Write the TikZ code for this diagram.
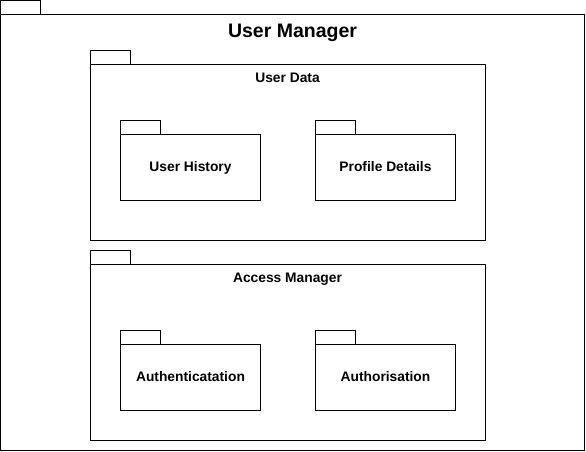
\documentclass[tikz,border=0pt]{standalone}
\usepackage{fontspec}
\setmainfont{Liberation Sans}
\usetikzlibrary{positioning}

\begin{document}
\begin{tikzpicture}[x=1pt,y=-1pt]
\tikzset{pkg/.style={draw,line width=1pt,inner sep=0pt,outer sep=0pt}}
\tikzset{tab/.style={pkg,minimum width=40pt,minimum height=14pt,anchor=south west}}
\tikzset{leafpkg/.style={pkg,minimum width=140pt,minimum height=66pt,font=\fontsize{13.8}{16}\bfseries,text depth=0pt,text height=8pt}}
\tikzset{title/.style={inner sep=0pt,font=\fontsize{13.8}{16}\bfseries}}

\useasboundingbox (0,0) rectangle (586,451);

% outer package
\node[pkg,minimum width=584pt,minimum height=436pt] (usermanager) at (292.5,232.5) {};
\node[tab] (usermanagertab) at (usermanager.north west) {};
\node[title,font=\fontsize{19.5}{22}\bfseries,below=9pt of usermanager.north] (usermanagertitle) {User Manager};

% user data
\node[pkg,minimum width=395pt,minimum height=176pt] (userdata) at (287.5,152.5) {};
\node[tab] (userdatatab) at (userdata.north west) {};
\node[title,below=8pt of userdata.north] (userdatatitle) {User Data};
\node[leafpkg] (history) at (190.5,167.5) {User History};
\node[tab] (historytab) at (history.north west) {};
\node[leafpkg] (profile) at (385.5,167.5) {Profile Details};
\node[tab] (profiletab) at (profile.north west) {};

% access manager
\node[pkg,minimum width=395pt,minimum height=176pt] (access) at (287.5,352.5) {};
\node[tab] (accesstab) at (access.north west) {};
\node[title,below=8pt of access.north] (accesstitle) {Access Manager};
\node[leafpkg] (authn) at (190.5,377.5) {Authenticatation};
\node[tab] (authntab) at (authn.north west) {};
\node[leafpkg] (authz) at (385.5,377.5) {Authorisation};
\node[tab] (authztab) at (authz.north west) {};

\end{tikzpicture}
\end{document}
